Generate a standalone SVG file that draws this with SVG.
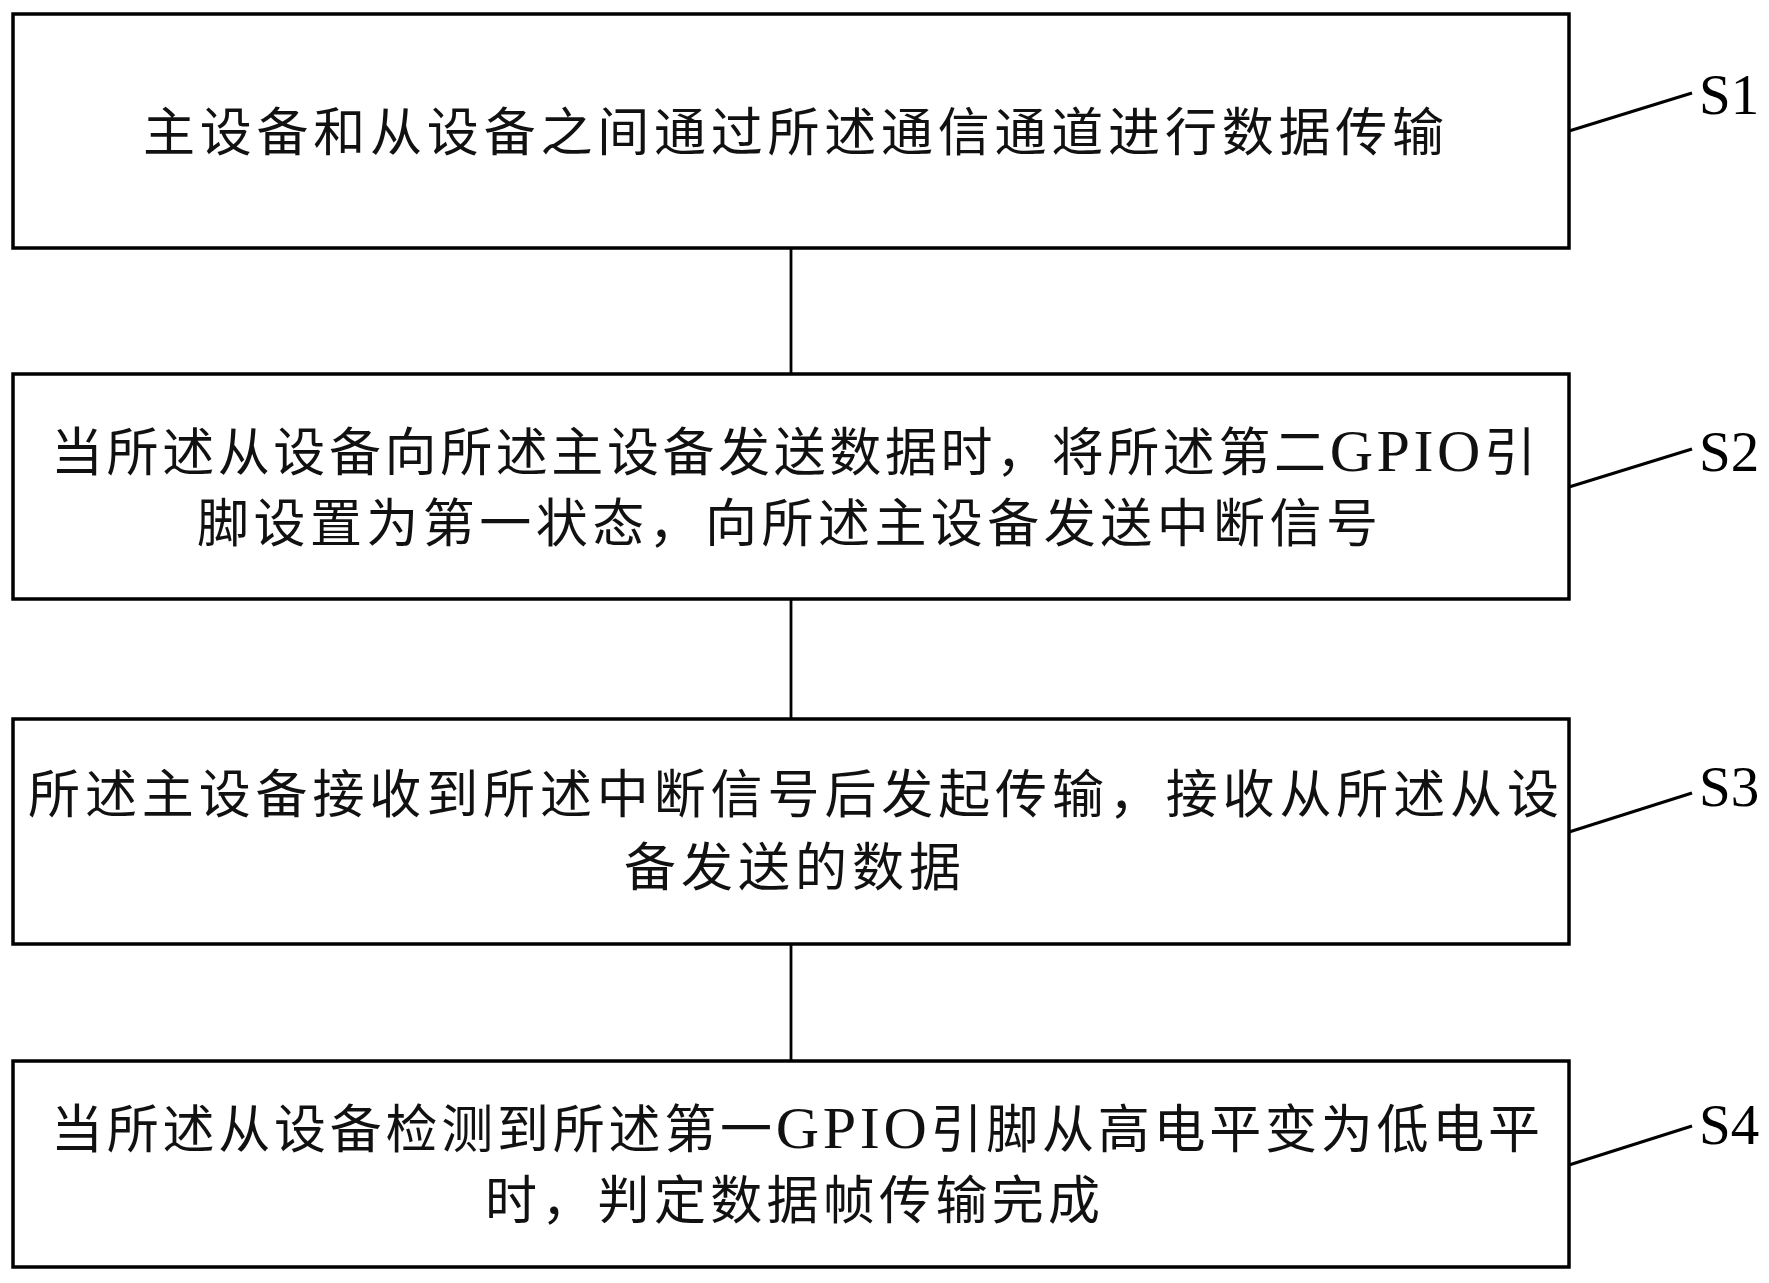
<svg xmlns="http://www.w3.org/2000/svg" width="1769" height="1283" viewBox="0 0 1769 1283">
<style>
.box{fill:#fff;stroke:#000;stroke-width:3.5}
.conn{stroke:#000;stroke-width:2.8;fill:none}
.lead{stroke:#000;stroke-width:3.2;fill:none}
.t{font-family:"Liberation Serif","Noto Sans CJK SC",serif;font-size:52px;fill:#111}
.g{font-size:60px}
.lbl{font-family:"Liberation Serif","Times New Roman",serif;font-size:57px;fill:#000}
</style>
<rect x="0" y="0" width="1769" height="1283" fill="#fff"/>
<g id="connectors">
<line class="conn" x1="791" y1="248" x2="791" y2="374"/>
<line class="conn" x1="791" y1="599" x2="791" y2="719"/>
<line class="conn" x1="791" y1="944" x2="791" y2="1061"/>
</g>
<g id="S1">
<rect class="box" x="13" y="14" width="1556" height="234"/>
<text class="t" x="143" y="151" textLength="1301" lengthAdjust="spacing">主设备和从设备之间通过所述通信通道进行数据传输</text>
<line class="lead" x1="1569" y1="131" x2="1692" y2="93"/>
<text class="lbl" x="1699" y="114">S1</text>
</g>
<g id="S2">
<rect class="box" x="13" y="374" width="1556" height="225"/>
<text class="t" x="51" y="471" textLength="1485" lengthAdjust="spacing">当所述从设备向所述主设备发送数据时，将所述第二<tspan class="g">GPIO</tspan>引</text>
<text class="t" x="197" y="542" textLength="1181" lengthAdjust="spacing">脚设置为第一状态，向所述主设备发送中断信号</text>
<line class="lead" x1="1569" y1="487" x2="1692" y2="449"/>
<text class="lbl" x="1699" y="471">S2</text>
</g>
<g id="S3">
<rect class="box" x="13" y="719" width="1556" height="225"/>
<text class="t" x="28" y="813" textLength="1531" lengthAdjust="spacing">所述主设备接收到所述中断信号后发起传输，接收从所述从设</text>
<text class="t" x="624" y="886" textLength="337" lengthAdjust="spacing">备发送的数据</text>
<line class="lead" x1="1569" y1="832" x2="1692" y2="793"/>
<text class="lbl" x="1699" y="806">S3</text>
</g>
<g id="S4">
<rect class="box" x="13" y="1061" width="1556" height="206"/>
<text class="t" x="51" y="1148" textLength="1489" lengthAdjust="spacing">当所述从设备检测到所述第一<tspan class="g">GPIO</tspan>引脚从高电平变为低电平</text>
<text class="t" x="485" y="1219" textLength="615" lengthAdjust="spacing">时，判定数据帧传输完成</text>
<line class="lead" x1="1569" y1="1165" x2="1692" y2="1126"/>
<text class="lbl" x="1699" y="1144">S4</text>
</g>
</svg>
